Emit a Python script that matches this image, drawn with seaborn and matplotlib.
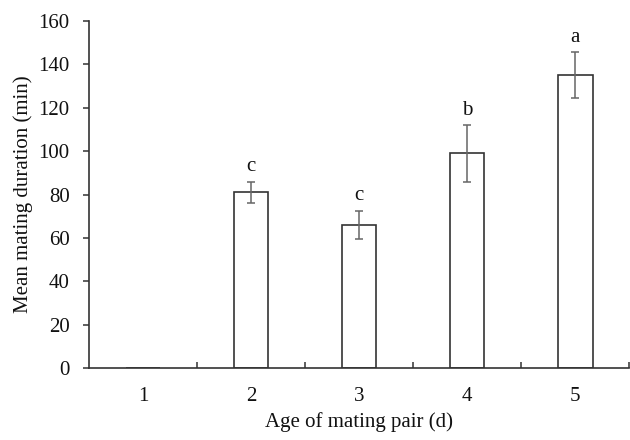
import matplotlib
matplotlib.use("Agg")
import matplotlib.pyplot as plt
import seaborn as sns
import pandas as pd
from matplotlib.ticker import FixedLocator

ages = ["1", "2", "3", "4", "5"]
means = [0, 81, 66, 99, 135]
errors = [0, 5, 6.5, 13, 10.5]
letters = ["", "c", "c", "b", "a"]
yticks = [0, 20, 40, 60, 80, 100, 120, 140, 160]

sns.set_theme(style="white")
plt.rcParams["font.family"] = ["Liberation Serif", "DejaVu Serif"]
plt.rcParams["font.size"] = 15

df = pd.DataFrame({"age": ages, "mean": means})

fig = plt.figure(figsize=(6.3, 4.4), dpi=100)
ax = fig.add_axes([0.1413, 0.1636, 0.8575, 0.7886])

sns.barplot(data=df, x="age", y="mean", ax=ax, color="white",
            edgecolor="#333333", linewidth=1.2, width=0.32, errorbar=None)

xs = list(range(len(ages)))
ax.errorbar(xs[1:], means[1:], yerr=errors[1:], fmt="none", ecolor="#666666",
            elinewidth=1.1, capsize=3, capthick=1.1)

for x, m, e, l in zip(xs, means, errors, letters):
    if l:
        ax.annotate(l, (x, m + e), xytext=(0, 4), textcoords="offset points",
                    ha="center", va="bottom", fontsize=15, color="#111111")

ax.set_xlim(-0.5, len(ages) - 0.5)
ax.set_ylim(0, 160)
ax.set_yticks(yticks)
ax.set_yticklabels([str(t) for t in yticks], fontsize=15, color="#111111")
ax.set_xticklabels(ages, fontsize=15, color="#111111")

for s in ["top", "right"]:
    ax.spines[s].set_visible(False)
for s in ["left", "bottom"]:
    ax.spines[s].set_color("#333333")
    ax.spines[s].set_linewidth(1.2)

ax.tick_params(axis="y", direction="out", length=4, width=1.1, color="#333333", pad=10, left=True)
ax.tick_params(axis="x", which="major", length=0, pad=14)
ax.xaxis.set_minor_locator(FixedLocator([i + 0.5 for i in range(len(ages))]))
ax.tick_params(axis="x", which="minor", direction="in", length=4, width=1.1,
               color="#333333", bottom=True)

ax.set_xlabel("Age of mating pair (d)", fontsize=15, color="#111111", labelpad=4)
ax.set_ylabel("Mean mating duration (min)", fontsize=15, color="#111111", labelpad=4)

fig.savefig("out.png", dpi=100)
